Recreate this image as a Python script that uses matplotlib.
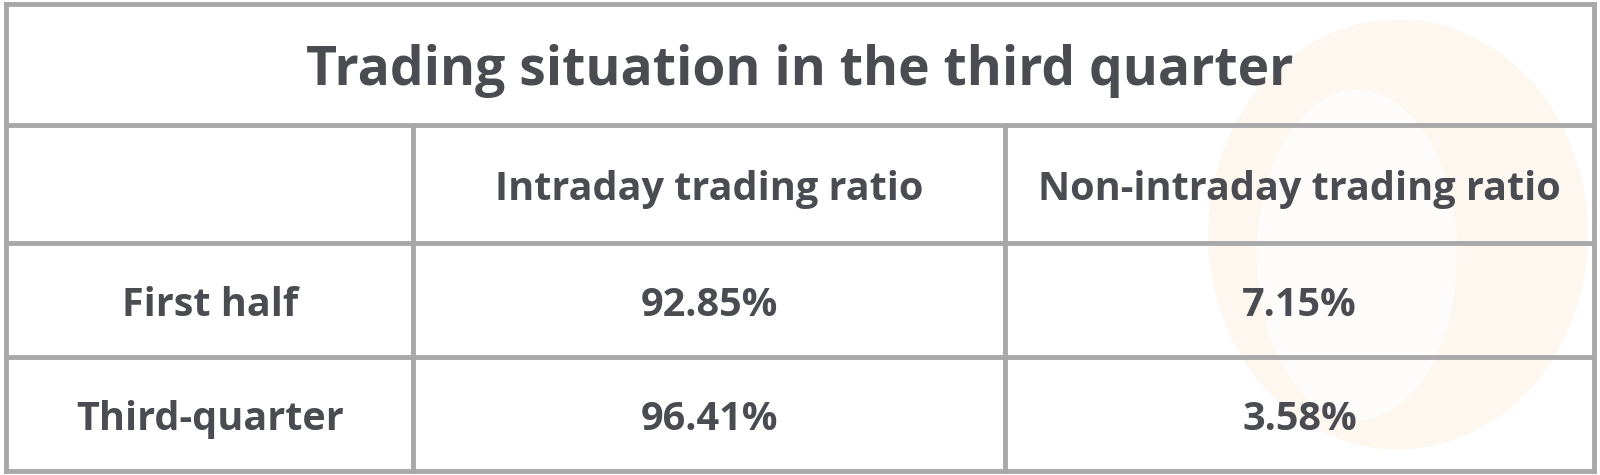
import matplotlib.pyplot as plt
from matplotlib.patches import Ellipse

title = "Trading situation in the third quarter"
col_labels = ["Intraday trading ratio", "Non-intraday trading ratio"]
row_labels = ["First half", "Third-quarter"]
intraday = ["92.85%", "96.41%"]
non_intraday = ["7.15%", "3.58%"]

W, H = 1600, 475
fig = plt.figure(figsize=(16, 4.75), dpi=100)
ax = fig.add_axes([0, 0, 1, 1])
ax.set_xlim(0, W)
ax.set_ylim(H, 0)
ax.axis("off")

sx = W / 1568
sy = H / 466
xs = [v * sx for v in (6, 405, 985, 1562)]
ys = [v * sy for v in (4, 123, 238, 350, 462)]
dy = 6  # text sits slightly below cell centre

# faint watermark
ax.add_patch(Ellipse((1370 * sx, 230 * sy), 380, 430, facecolor="#fdf0e2",
                     alpha=0.5, edgecolor="none", zorder=0))
ax.add_patch(Ellipse((1330 * sx, 250 * sy), 200, 330, facecolor="white",
                     alpha=0.7, edgecolor="none", zorder=0))

lc = "#a8a8a8"
for y in ys:
    ax.plot([xs[0], xs[-1]], [y, y], color=lc, lw=3.5, zorder=2)
for i, x in enumerate(xs):
    y0 = ys[0] if i in (0, len(xs) - 1) else ys[1]
    ax.plot([x, x], [y0, ys[-1]], color=lc, lw=3.5, zorder=2)

tc = "#4a4c52"
font = "Open Sans"
ax.text((xs[0] + xs[-1]) / 2, (ys[0] + ys[1]) / 2 + dy, title, ha="center",
        va="center", fontsize=38.5, fontweight="bold", color=tc, family=font)

cx = [(xs[i] + xs[i + 1]) / 2 for i in range(3)]
kw = dict(ha="center", va="center", fontsize=28.5, fontweight="bold",
          color=tc, family=font)
for j, lab in enumerate(col_labels):
    ax.text(cx[j + 1], (ys[1] + ys[2]) / 2 + dy, lab, **kw)
for i, lab in enumerate(row_labels):
    yc = (ys[i + 2] + ys[i + 3]) / 2 + dy
    ax.text(cx[0], yc, lab, **kw)
    ax.text(cx[1], yc, intraday[i], **kw)
    ax.text(cx[2], yc, non_intraday[i], **kw)

fig.savefig("out.png", dpi=100)
